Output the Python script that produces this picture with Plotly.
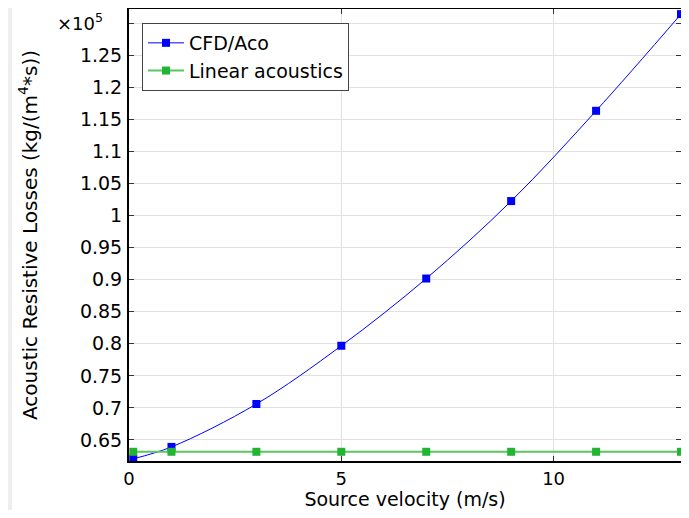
import plotly.graph_objects as go

# source velocity (m/s)
velocity = [0.1, 1, 3, 5, 7, 9, 11, 13]
# acoustic resistive losses, in units of 1e5 kg/(m^4*s)
cfd_aco = [0.6205, 0.639, 0.706, 0.797, 0.902, 1.023, 1.164, 1.315]
linear_acoustics = [0.6314, 0.6314, 0.6314, 0.6314, 0.6314, 0.6314, 0.6314, 0.6314]

# y ticks (the 1.3 tick has no label: the x10^5 factor sits there)
y_tickvals = [0.65, 0.7, 0.75, 0.8, 0.85, 0.9, 0.95, 1.0, 1.05, 1.1, 1.15, 1.2, 1.25, 1.3]
y_ticktext = ["0.65", "0.7", "0.75", "0.8", "0.85", "0.9", "0.95", "1", "1.05",
              "1.1", "1.15", "1.2", "1.25", ""]

FONT = "DejaVu Sans"
FS = 19       # tick labels, legend
FS_TITLE = 20  # axis titles

# the page body adds an 8px margin on every side; keep the figure inside the window
W, H = 673, 502
ML, MR, MT, MB = 121, 0, 1, 49
PW, PH = W - ML - MR, H - MT - MB


def px_x(x):
    """figure pixel -> paper x"""
    return (x - ML) / PW


def px_y(y):
    """figure pixel (from top) -> paper y"""
    return 1 - (y - MT) / PH


fig = go.Figure()

fig.add_trace(go.Scatter(
    x=velocity, y=cfd_aco,
    mode="lines+markers",
    name="CFD/Aco",
    line=dict(color="#0000ff", width=1, shape="spline"),
    marker=dict(symbol="square", size=8, color="#0000ff"),
    cliponaxis=False,
))

fig.add_trace(go.Scatter(
    x=velocity, y=linear_acoustics,
    mode="lines+markers",
    name="Linear acoustics",
    line=dict(color="#5cc460", width=2),
    marker=dict(symbol="square", size=8, color="#22b532"),
    cliponaxis=False,
))

# light grey strip on the left edge of the picture
fig.add_shape(type="rect", xref="paper", yref="paper",
              x0=px_x(0), x1=px_x(4), y0=px_y(H), y1=px_y(0),
              fillcolor="#eeeeee", line_width=0, layer="below")

# legend drop shadow
fig.add_shape(type="rect", xref="paper", yref="paper",
              x0=px_x(137), x1=px_x(341), y0=px_y(83), y1=px_y(18),
              fillcolor="#a0a0a0", line_width=0, layer="above")

fig.add_annotation(
    text="×10<sup>5</sup>", xref="paper", yref="paper",
    x=px_x(72), y=px_y(14), xanchor="center", yanchor="middle",
    showarrow=False, font=dict(family=FONT, size=18, color="black"),
)

axis_common = dict(
    showline=True, linecolor="black", linewidth=2, mirror="ticks",
    ticks="inside", ticklen=5, tickcolor="#333",
    showgrid=True, gridcolor="#e2e2e2", gridwidth=1,
    zeroline=False,
    tickfont=dict(family=FONT, size=FS, color="black"),
)

fig.update_layout(
    width=W, height=H,
    paper_bgcolor="white", plot_bgcolor="white",
    margin=dict(l=ML, r=MR, t=MT, b=MB, autoexpand=False),
    font=dict(family=FONT, size=FS, color="black"),
    xaxis=dict(
        range=[0, 13], dtick=5,
        title=dict(text="Source velocity (m/s)", font=dict(family=FONT, size=19), standoff=6),
        tickfont=dict(family=FONT, size=18, color="black"),
        ticklabelstandoff=0,
        **{k: v for k, v in axis_common.items() if k != "tickfont"},
    ),
    yaxis=dict(
        range=[0.617, 1.323],
        tickmode="array", tickvals=y_tickvals, ticktext=y_ticktext,
        title=dict(text="Acoustic Resistive Losses (kg/(m<sup>4</sup>*s))",
                   font=dict(family=FONT, size=FS_TITLE), standoff=37),
        ticklabelstandoff=1,
        **axis_common,
    ),
    legend=dict(
        x=px_x(134), y=px_y(15), xanchor="left", yanchor="top",
        bgcolor="white", bordercolor="#444", borderwidth=1,
        font=dict(family=FONT, size=FS),
        itemwidth=36,
        tracegroupgap=0,
    ),
)

fig.write_html("out.html")
